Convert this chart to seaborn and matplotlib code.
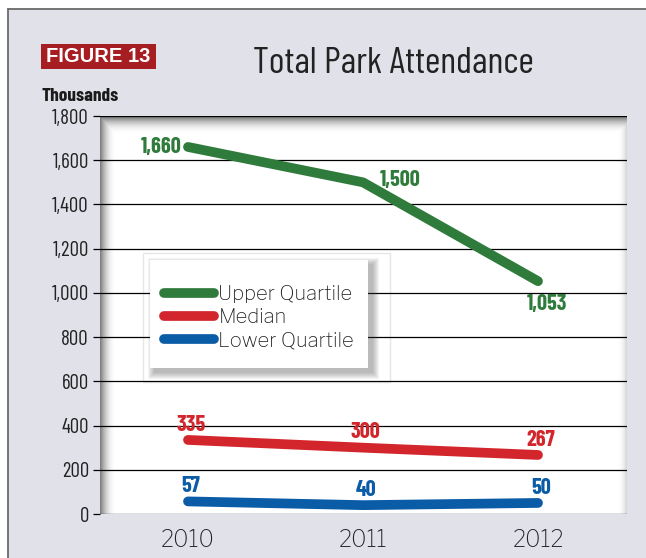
import numpy as np
import pandas as pd
import seaborn as sns
import matplotlib.pyplot as plt
from matplotlib import font_manager
from matplotlib.patches import Rectangle
from matplotlib.lines import Line2D

# ---- data (thousands of visitors) ----
years = ["2010", "2011", "2012"]
upper_quartile = [1660, 1500, 1053]
median = [335, 300, 267]
lower_quartile = [57, 40, 50]
series_names = ["Upper Quartile", "Median", "Lower Quartile"]
y_ticks = [0, 200, 400, 600, 800, 1000, 1200, 1400, 1600, 1800]

colors = {"Upper Quartile": "#2e7b3b", "Median": "#d2262c", "Lower Quartile": "#0b5ca6"}
BG = "#e1e1ea"

df = pd.DataFrame({
    "x": list(range(len(years))) * 3,
    "value": upper_quartile + median + lower_quartile,
    "series": np.repeat(series_names, len(years)),
})

sns.set_theme(style="white")
installed = {f.name for f in font_manager.fontManager.ttflist}


def pick(*cands):
    for c in cands:
        if c in installed:
            return c
    return "DejaVu Sans"


NARROW = pick("Barlow Condensed", "Archivo Narrow", "Liberation Sans Narrow")
BOOK = pick("Libre Franklin", "DejaVu Sans")
plt.rcParams["font.family"] = [BOOK, "DejaVu Sans"]

W, H = 646, 558
fig = plt.figure(figsize=(W / 100, H / 100), dpi=100)
fig.patch.set_facecolor("white")

# panel background and its frame
fig.add_artist(Rectangle((8 / W, 0), 1, (H - 9) / H, transform=fig.transFigure,
                         facecolor=BG, edgecolor="none", zorder=-5))
fig.add_artist(Line2D([8 / W, 8 / W], [0, (H - 9) / H], transform=fig.transFigure,
                      color="#6a6a6a", lw=1.3))
fig.add_artist(Line2D([8 / W, 1], [(H - 9) / H, (H - 9) / H], transform=fig.transFigure,
                      color="#6a6a6a", lw=1.3))

# plot area
AX_L, AX_R, AX_T, AX_B = 100, 627, 116, 514
aw, ah = AX_R - AX_L, AX_B - AX_T
ax = fig.add_axes([AX_L / W, (H - AX_B) / H, aw / W, ah / H])
ax.set_facecolor("white")

# inset shading along the top, left and right edges of the plot area
yy, xx = np.mgrid[0:ah, 0:aw].astype(float)
d_top = 0.55 * np.clip(1 - yy / 17, 0, 1) ** 2
d_left = 0.50 * np.clip(1 - xx / 15, 0, 1) ** 2
d_right = 0.15 * np.clip(1 - (aw - 1 - xx) / 9, 0, 1) ** 2
shade = 1 - np.maximum(np.maximum(d_top, d_left), d_right)
img = np.dstack([shade, shade, shade])
ax.imshow(img, extent=(0, 1, 0, 1), transform=ax.transAxes, aspect="auto",
          zorder=0, interpolation="bilinear")

sns.lineplot(data=df, x="x", y="value", hue="series", hue_order=series_names,
             palette=colors, linewidth=7, solid_capstyle="round",
             legend=False, ax=ax, zorder=4)

x_step = 175
ax.set_xlim(-88 / x_step, (aw - 88) / x_step)
ax.set_ylim(0, 1800)
ax.set_yticks(y_ticks)
ax.set_yticklabels([f"{v:,}" for v in y_ticks], fontfamily=NARROW, fontsize=15,
                   color="#222222")
ax.set_xticks(range(len(years)))
ax.set_xticklabels(years, fontsize=16.5, color="#222222")
ax.set_xlabel("")
ax.set_ylabel("")
for s in ax.spines.values():
    s.set_visible(False)
ax.grid(axis="y", color="black", lw=0.9)
ax.grid(axis="x", visible=False)
ax.tick_params(axis="y", left=True, length=5, width=0.9, color="black", pad=3)
ax.tick_params(axis="x", bottom=False, length=0, pad=11)

# value labels
label_font = dict(fontfamily=NARROW, fontweight="bold", fontsize=16)
green_offsets = [(-5, 0, "right"), (12, 1.5, "left"), (6.5, -16.5, "center")]
for i, v in enumerate(upper_quartile):
    dx, dy, ha = green_offsets[i]
    ax.annotate(f"{v:,}", (i, v), xytext=(dx, dy), textcoords="offset points",
                ha=ha, va="center", color=colors["Upper Quartile"], zorder=6, **label_font)
for name, vals in (("Median", median), ("Lower Quartile", lower_quartile)):
    for i, v in enumerate(vals):
        ax.annotate(f"{v:,}", (i, v), xytext=(2, 11), textcoords="offset points",
                    ha="center", va="center", color=colors[name], zorder=6, **label_font)


# legend panel with a soft drop shadow
def px_rect(x0, y0, x1, y1, **kw):
    return Rectangle(((x0 - AX_L) / aw, (AX_B - y1) / ah), (x1 - x0) / aw, (y1 - y0) / ah,
                     transform=ax.transAxes, **kw)


ax.add_patch(px_rect(143, 253, 390, 382, facecolor="none", edgecolor="#e6e6e6",
                     lw=1, zorder=0.4))
for k in range(7, 0, -1):
    ax.add_patch(px_rect(150 + 5 - k, 260 + 5 - k, 368 + 4 + k, 368 + 4 + k,
                         facecolor="#404040", edgecolor="none", alpha=0.06, zorder=5))
ax.add_patch(px_rect(150, 260, 368, 368, facecolor="white", edgecolor="none", zorder=5.5))

handles = [Line2D([], [], color=colors[n], lw=7, solid_capstyle="round") for n in series_names]
leg = ax.legend(handles, series_names, loc="upper left",
                bbox_to_anchor=((154 - AX_L) / aw, (AX_B - 275) / ah),
                frameon=False, borderpad=0, handlelength=2.5, handletextpad=0.2,
                labelspacing=0.25, fontsize=14.5)
leg.set_zorder(7)
for t in leg.get_texts():
    t.set_color("#222222")

# headings
fig.add_artist(Rectangle((41 / W, 1 - 69 / H), 115 / W, 25 / H, transform=fig.transFigure,
                         facecolor="#a61e22", edgecolor="none"))
fig.text((41 + 115 / 2) / W, 1 - 57 / H, "FIGURE 13", color="white", fontweight="bold",
         fontfamily="Liberation Sans", fontsize=14.5, ha="center", va="center")
fig.text(393 / W, 1 - 73 / H, "Total Park Attendance", ha="center", va="baseline",
         fontfamily=NARROW, fontsize=27, color="#222222")
fig.text(42 / W, 1 - 101 / H, "Thousands", ha="left", va="baseline",
         fontfamily=NARROW, fontweight="bold", fontsize=14, color="#1a1a1a")

fig.savefig("out.png", dpi=100)
